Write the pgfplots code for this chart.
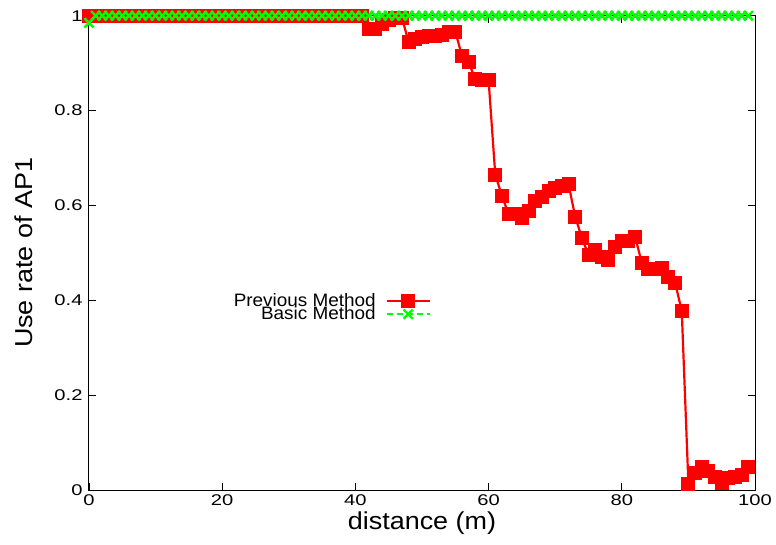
\documentclass[border=0pt]{standalone}
\usepackage{pgfplots}
\usepackage{pgfplotstable}
\pgfplotsset{compat=1.18}
\usepackage{fontspec}
\setmainfont{Liberation Sans}
\newfontfamily\tickfont{Liberation Sans}[FakeStretch=1.3]
\newfontfamily\labelfont{Liberation Sans}[FakeStretch=1.1]
\newfontfamily\legfont{Liberation Sans}[FakeStretch=1.05]

\pgfplotstableread{
x y
0 1
1 1
2 1
3 1
4 1
5 1
6 1
7 1
8 1
9 1
10 1
11 1
12 1
13 1
14 1
15 1
16 1
17 1
18 1
19 1
20 1
21 1
22 1
23 1
24 1
25 1
26 1
27 1
28 1
29 1
30 1
31 1
32 1
33 1
34 1
35 1
36 1
37 1
38 1
39 1
40 1
41 1
42 0.973
43 0.972
44 0.982
45 0.990
46 0.995
47 0.995
48 0.944
49 0.951
50 0.956
51 0.958
52 0.957
53 0.960
54 0.966
55 0.966
56 0.916
57 0.902
58 0.866
59 0.864
60 0.864
61 0.665
62 0.620
63 0.582
64 0.582
65 0.573
66 0.588
67 0.610
68 0.617
69 0.631
70 0.637
71 0.640
72 0.645
73 0.576
74 0.532
75 0.495
76 0.505
77 0.492
78 0.485
79 0.513
80 0.526
81 0.526
82 0.534
83 0.479
84 0.466
85 0.466
86 0.469
87 0.450
88 0.437
89 0.378
90 0.013
91 0.036
92 0.048
93 0.041
94 0.028
95 0.014
96 0.025
97 0.028
98 0.032
99 0.048
}\prevtab

\pgfplotstableread{
x y
0 0.985
1 1
2 1
3 1
4 1
5 1
6 1
7 1
8 1
9 1
10 1
11 1
12 1
13 1
14 1
15 1
16 1
17 1
18 1
19 1
20 1
21 1
22 1
23 1
24 1
25 1
26 1
27 1
28 1
29 1
30 1
31 1
32 1
33 1
34 1
35 1
36 1
37 1
38 1
39 1
40 1
41 1
42 1
43 1
44 1
45 1
46 1
47 1
48 1
49 1
50 1
51 1
52 1
53 1
54 1
55 1
56 1
57 1
58 1
59 1
60 1
61 1
62 1
63 1
64 1
65 1
66 1
67 1
68 1
69 1
70 1
71 1
72 1
73 1
74 1
75 1
76 1
77 1
78 1
79 1
80 1
81 1
82 1
83 1
84 1
85 1
86 1
87 1
88 1
89 1
90 1
91 1
92 1
93 1
94 1
95 1
96 1
97 1
98 1
99 1
}\basictab

\begin{document}
\begin{tikzpicture}
\begin{axis}[
  scale only axis,
  width=666pt, height=474.3pt,
  xmin=0, xmax=100, ymin=0, ymax=1,
  xtick={0,20,40,60,80,100},
  ytick={0,0.2,0.4,0.6,0.8,1},
  yticklabels={0,0.2,0.4,0.6,0.8,1},
  xticklabels={0,20,40,60,80,100},
  tick align=inside,
  major tick length=7pt,
  axis line style={line width=1pt},
  tick style={line width=0.8pt, black},
  ticklabel style={font=\tickfont\fontsize{15.5}{18}\selectfont},
  yticklabel style={xshift=-3pt},
  xticklabel style={yshift=-1pt},
  clip=false,
  xlabel={distance (m)},
  ylabel={Use rate of AP1},
  label style={font=\labelfont\fontsize{24.5}{28}\selectfont},
  xlabel style={at={(axis description cs:0.5,0)}, anchor=center, yshift=-33pt, inner sep=0pt},
  ylabel style={at={(axis description cs:0,0.5)}, anchor=center, yshift=65pt, inner sep=0pt},
  legend cell align=right,
  legend plot pos=right,
  legend style={draw=none, fill=none, font=\legfont\fontsize{18}{20}\selectfont,
    at={(axis description cs:0.5135,0.415)}, anchor=north east,
    inner sep=0pt, row sep=-1pt, column sep=10pt,
    nodes={inner sep=0pt}},
  legend image code/.code={\draw[mark repeat=2,mark phase=2,#1] plot coordinates {(0pt,0pt) (21.5pt,0pt) (43pt,0pt)};},
]
\addplot[color=red, line width=2.2pt, mark=square*, mark size=6.5pt, mark options={solid, fill=red, draw=red, line width=0pt}] table[x=x,y=y] {\prevtab};
\addlegendentry{Previous Method}
\addplot[color=green, line width=2pt, dash pattern=on 6pt off 4pt, mark=x, mark size=6.5pt, mark options={solid, line width=2.4pt}] table[x=x,y=y] {\basictab};
\addlegendentry{Basic Method}
\end{axis}
\pgfresetboundingbox
\path[use as bounding box] (-89pt,-54pt) rectangle (687pt,490pt);
\end{tikzpicture}
\end{document}
